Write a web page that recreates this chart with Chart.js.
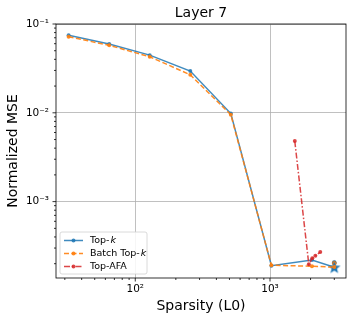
<!DOCTYPE html>
<html>
<head>
<meta charset="utf-8">
<script src="https://cdn.jsdelivr.net/npm/chart.js@4"></script>
<style>
  html, body { margin:0; padding:0; background:#fff; }
  #wrap { width:353px; height:322px; }
</style>
</head>
<body>
<div id="wrap"><canvas id="c" width="353" height="322"></canvas></div>
<script>
// values
const topkX  = [32, 64, 128, 256, 512, 1024, 2048, 3000];
const topkY  = [0.0746, 0.0595, 0.0446, 0.0295, 0.0098, 1.9e-4, 2.2e-4, 1.82e-4];
const batchX = [32, 64, 128, 256, 512, 1024, 2048, 3000];
const batchY = [0.072, 0.0575, 0.0428, 0.0268, 0.0095, 1.92e-4, 1.87e-4, 1.83e-4];
const afaX   = [1527, 1940, 2060, 2170, 2360];
const afaY   = [4.8e-3, 1.97e-4, 2.3e-4, 2.45e-4, 2.7e-4];
const extraTopkY  = [2.06e-4];   // lone markers at the last L0
const extraBatchY = [2.02e-4];
const xTicks = [100, 1000];
const yTicks = [1e-3, 1e-2, 1e-1];
const labels = ['Top-k', 'Batch Top-k', 'Top-AFA'];

const BLUE = 'rgba(31,119,180,0.85)', ORANGE = 'rgba(255,127,14,0.9)', RED = 'rgba(214,39,40,0.85)';
const sup = {'-':'⁻','0':'⁰','1':'¹','2':'²','3':'³'};
const pow10 = v => '10' + String(Math.round(Math.log10(v))).split('').map(ch => sup[ch]).join('');
const pts = (xs, ys) => xs.map((x, i) => ({x, y: ys[i]}));

// filled star marker
const star = document.createElement('canvas');
star.width = 14; star.height = 14;
(() => {
  const g = star.getContext('2d'); g.fillStyle = '#1f77b4'; g.beginPath();
  for (let i = 0; i < 10; i++) {
    const r = i % 2 ? 2.8 : 6.6, a = -Math.PI/2 + i*Math.PI/5;
    g.lineTo(7 + r*Math.cos(a), 7.5 + r*Math.sin(a));
  }
  g.closePath(); g.fill();
})();

const F = 'DejaVu Sans';

const frame = {
  id: 'frame',
  afterDraw(c) {
    const {ctx, chartArea: a, scales: {x, y}} = c;
    ctx.save();
    ctx.strokeStyle = '#000'; ctx.lineWidth = 0.8;
    ctx.strokeRect(a.left, a.top, a.right - a.left, a.bottom - a.top);
    // ticks
    const tick = (px, len, hor) => { ctx.beginPath();
      if (hor) { ctx.moveTo(px, a.bottom); ctx.lineTo(px, a.bottom + len); }
      else { ctx.moveTo(a.left, px); ctx.lineTo(a.left - len, px); }
      ctx.stroke(); };
    [10, 100, 1000].forEach(d => { for (let m = 1; m < 10; m++) {
      const v = d*m; if (v < x.min || v > x.max) continue; tick(x.getPixelForValue(v), m === 1 ? 3.5 : 2, true); } });
    [1e-4, 1e-3, 1e-2, 1e-1].forEach(d => { for (let m = 1; m < 10; m++) {
      const v = d*m; if (v < y.min || v > y.max*1.0001) continue; tick(y.getPixelForValue(v), m === 1 ? 3.5 : 2, false); } });
    // titles
    ctx.fillStyle = '#000'; ctx.textAlign = 'center'; ctx.textBaseline = 'middle';
    ctx.font = `14px "${F}"`;
    ctx.fillText('Layer 7', (a.left + a.right)/2, 13);
    ctx.fillText('Sparsity (L0)', (a.left + a.right)/2, 306);
    ctx.save(); ctx.translate(13, (a.top + a.bottom)/2); ctx.rotate(-Math.PI/2);
    ctx.fillText('Normalized MSE', 0, 0); ctx.restore();
    // legend
    const bx = a.left + 4, by = a.bottom - 46, bw = 87, bh = 42;
    ctx.fillStyle = 'rgba(255,255,255,0.85)'; ctx.strokeStyle = '#d0d0d0'; ctx.lineWidth = 0.8;
    ctx.beginPath(); ctx.roundRect(bx, by, bw, bh, 2); ctx.fill(); ctx.stroke();
    const ds = c.data.datasets;
    ctx.font = `9.5px "${F}"`; ctx.textAlign = 'left';
    [0, 1, 2].forEach(i => {
      const d = ds[i], ly = by + 8.5 + i*13;
      ctx.strokeStyle = d.borderColor; ctx.lineWidth = 1.5; ctx.setLineDash(d.borderDash || []);
      ctx.beginPath(); ctx.moveTo(bx + 4, ly); ctx.lineTo(bx + 23, ly); ctx.stroke(); ctx.setLineDash([]);
      ctx.fillStyle = d.borderColor; ctx.beginPath(); ctx.arc(bx + 13.5, ly, 2, 0, Math.PI*2); ctx.fill();
      ctx.fillStyle = '#000';
      const t = labels[i], tx = bx + 30;
      if (t.endsWith('k')) {
        const head = t.slice(0, -1); ctx.fillText(head, tx, ly);
        ctx.font = `italic 9.5px "${F}"`; ctx.fillText('k', tx + ctx.measureText(head).width + 0.5, ly);
        ctx.font = `9.5px "${F}"`;
      } else ctx.fillText(t, tx, ly);
    });
    ctx.restore();
  }
};

const lineDs = (label, data, color, dash, order, styles) => ({
  label, data, showLine: true, borderColor: color, backgroundColor: color, borderWidth: 1.5,
  borderDash: dash, pointRadius: 2, pointHoverRadius: 2, pointBorderWidth: 0,
  pointStyle: styles || 'circle', order
});

new Chart(document.getElementById('c'), {
  type: 'scatter',
  data: { datasets: [
    lineDs(labels[0], pts(topkX, topkY), BLUE, [], 3, topkX.map((_, i) => i === topkX.length - 1 ? star : 'circle')),
    lineDs(labels[1], pts(batchX, batchY), ORANGE, [5, 2.5], 2),
    lineDs(labels[2], pts(afaX, afaY), RED, [6, 2, 1.5, 2], 0),
    { label: 'x1', data: pts([topkX[topkX.length-1]], extraTopkY), backgroundColor: BLUE, pointRadius: 2.2, order: 5 },
    { label: 'x2', data: pts([batchX[batchX.length-1]], extraBatchY), backgroundColor: ORANGE, pointRadius: 2.2, order: 4 }
  ]},
  options: {
    responsive: false, animation: false, events: [],
    layout: { padding: { top: 24, right: 7, left: 0, bottom: 0 } },
    plugins: { legend: { display: false }, tooltip: { enabled: false } },
    scales: {
      x: { type: 'logarithmic', min: 25.8, max: 3664,
        afterBuildTicks: s => { s.ticks = xTicks.map(v => ({value: v})); },
        afterFit: s => { s.height = 44; },
        border: { display: false },
        grid: { color: '#b0b0b0', lineWidth: 0.8, drawTicks: false },
        ticks: { callback: v => pow10(v), color: '#000', padding: 5, maxRotation: 0, autoSkip: false, font: { family: F, size: 10.5 } } },
      y: { type: 'logarithmic', min: 1.38e-4, max: 0.1,
        afterBuildTicks: s => { s.ticks = yTicks.map(v => ({value: v})); },
        afterFit: s => { s.width = 56; },
        border: { display: false },
        grid: { color: '#b0b0b0', lineWidth: 0.8, drawTicks: false },
        ticks: { callback: v => pow10(v), color: '#000', padding: 7, autoSkip: false, font: { family: F, size: 10.5 } } }
    }
  },
  plugins: [frame]
});
</script>
</body>
</html>
